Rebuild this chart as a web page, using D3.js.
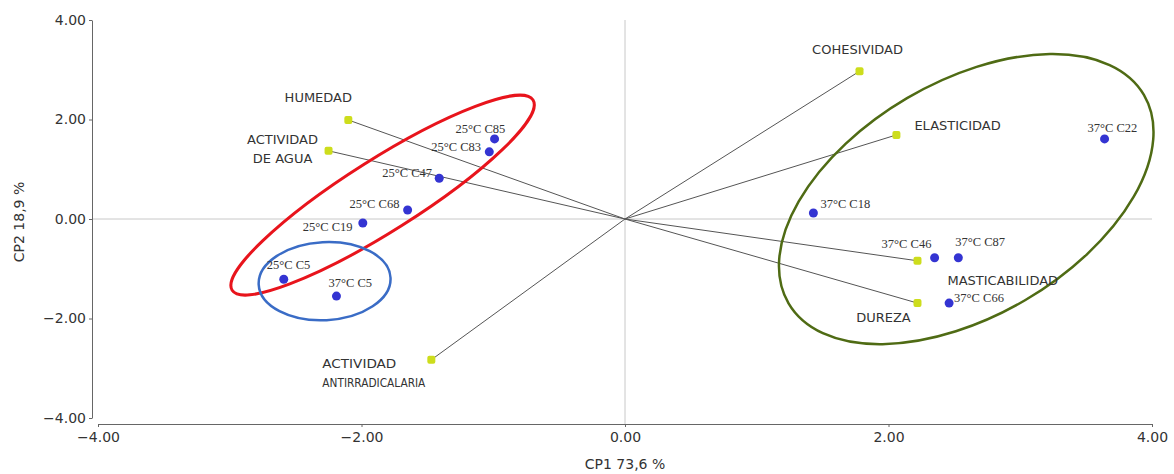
<!DOCTYPE html>
<html>
<head>
<meta charset="utf-8">
<script src="https://cdn.jsdelivr.net/npm/d3@7"></script>
<style>
  body { margin: 0; background: #fff; }
  svg text { font-family: "DejaVu Sans", sans-serif; fill: #333; }
  .axis path, .axis line { stroke: #666; }
  .axis text { font-size: 14px; fill: #333; }
  .sample { font-family: "Liberation Serif", serif; font-size: 12.5px; }
  .var { font-size: 13px; }
</style>
</head>
<body>
<div id="container"></div>
<script>
// samples (scores)
var sampleNames = ["25°C C85", "25°C C83", "25°C C47", "25°C C68", "25°C C19", "25°C C5",
                   "37°C C5", "37°C C18", "37°C C46", "37°C C87", "37°C C66", "37°C C22"];
var sampleCP1 = [-0.99, -1.03, -1.41, -1.65, -1.99, -2.59, -2.19, 1.43, 2.35, 2.53, 2.46, 3.64];
var sampleCP2 = [1.61, 1.35, 0.82, 0.18, -0.08, -1.21, -1.55, 0.12, -0.78, -0.78, -1.69, 1.61];

// variables (loadings)
var varNames = [["HUMEDAD"], ["ACTIVIDAD", "DE AGUA"], ["COHESIVIDAD"], ["ELASTICIDAD"],
                ["MASTICABILIDAD"], ["DUREZA"], ["ACTIVIDAD", "ANTIRRADICALARIA"]];
var varCP1 = [-2.10, -2.25, 1.78, 2.06, 2.22, 2.22, -1.47];
var varCP2 = [1.99, 1.37, 2.97, 1.69, -0.84, -1.69, -2.83];

var tickValues = [-4, -2, 0, 2, 4];

// label placement (pixels, relative to the point)
var sampleLabelPos = [[-39,-6],[-58,-1],[-57,-1],[-58,-2],[-60,8],[-17,-10],
                      [-8,-9],[7,-5],[-53,-10],[-3,-12],[5,-1],[-17,-7]];
var varLabelPos = [
  {dx:-30, dy:-18, anchor:"middle"},
  {dx:-46, dy:-7, anchor:"middle"},
  {dx:-2, dy:-17, anchor:"middle"},
  {dx:18, dy:-5, anchor:"start"},
  {dx:30, dy:24, anchor:"start"},
  {dx:-34, dy:19, anchor:"middle"},
  {dx:-109, dy:8, anchor:"start", fit:[74, 103]}
];

// group ellipses: center in data units, radii/angle in pixels
var groups = [
  {cx:-1.84, cy:0.48, rx:178, ry:36, angle:-32.3, color:"#e8141c", w:3},
  {cx:-2.28, cy:-1.25, rx:66, ry:39, angle:-3, color:"#3a6cc6", w:2.5},
  {cx:2.59, cy:0.40, rx:206, ry:117, angle:-30.4, color:"#4f6b14", w:2.5}
];

var W = 1174, H = 474;
var svg = d3.select("#container").append("svg")
  .attr("width", W).attr("height", H);

var x = d3.scaleLinear().domain([-4, 4]).range([98, 1152]);
var y = d3.scaleLinear().domain([-4, 4]).range([418, 20]);

// zero lines
svg.append("line")
  .attr("x1", 92).attr("x2", 1152)
  .attr("y1", y(0)).attr("y2", y(0))
  .attr("stroke", "#c8c8c8");
svg.append("line")
  .attr("x1", x(0)).attr("x2", x(0))
  .attr("y1", y(4)).attr("y2", 424)
  .attr("stroke", "#c8c8c8");

// axes
svg.append("g")
  .attr("class", "axis")
  .attr("transform", "translate(0,424)")
  .call(d3.axisBottom(x).tickValues(tickValues).tickFormat(d3.format(".2f"))
    .tickSize(3).tickSizeOuter(0).tickPadding(5));
svg.append("g")
  .attr("class", "axis")
  .attr("transform", "translate(92,0)")
  .call(d3.axisLeft(y).tickValues(tickValues).tickFormat(d3.format(".2f"))
    .tickSize(3).tickSizeOuter(0).tickPadding(3));

svg.append("text")
  .attr("x", x(0)).attr("y", 469)
  .attr("text-anchor", "middle")
  .style("font-size", "14px")
  .text("CP1 73,6 %");
svg.append("text")
  .attr("transform", "translate(24," + 222 + ") rotate(-90)")
  .attr("text-anchor", "middle")
  .style("font-size", "14px")
  .text("CP2 18,9 %");

// loading vectors
svg.append("g").selectAll("line")
  .data(varCP1)
  .enter().append("line")
    .attr("x1", x(0)).attr("y1", y(0))
    .attr("x2", (d, i) => x(d))
    .attr("y2", (d, i) => y(varCP2[i]))
    .attr("stroke", "#555")
    .attr("stroke-width", 1);

// ellipses
svg.append("g").selectAll("ellipse")
  .data(groups)
  .enter().append("ellipse")
    .attr("transform", d => "translate(" + x(d.cx) + "," + y(d.cy) + ") rotate(" + d.angle + ")")
    .attr("rx", d => d.rx).attr("ry", d => d.ry)
    .attr("fill", "none")
    .attr("stroke", d => d.color)
    .attr("stroke-width", d => d.w);

// variable points
svg.append("g").selectAll("rect")
  .data(varCP1)
  .enter().append("rect")
    .attr("x", d => x(d) - 4)
    .attr("y", (d, i) => y(varCP2[i]) - 4)
    .attr("width", 8).attr("height", 8)
    .attr("rx", 2)
    .attr("fill", "#cddd1c");

// variable labels
varNames.forEach(function(lines, i) {
  var p = varLabelPos[i];
  var t = svg.append("text")
    .attr("class", "var")
    .attr("text-anchor", p.anchor);
  lines.forEach(function(s, j) {
    var ts = t.append("tspan")
      .attr("x", x(varCP1[i]) + p.dx)
      .attr("y", y(varCP2[i]) + p.dy + j * 19)
      .text(s);
    if (p.fit) ts.attr("textLength", p.fit[j]).attr("lengthAdjust", "spacingAndGlyphs");
  });
});

// sample points
svg.append("g").selectAll("circle")
  .data(sampleCP1)
  .enter().append("circle")
    .attr("cx", d => x(d))
    .attr("cy", (d, i) => y(sampleCP2[i]))
    .attr("r", 4.5)
    .attr("fill", "#3434d2");

svg.append("g").selectAll("text")
  .data(sampleNames)
  .enter().append("text")
    .attr("class", "sample")
    .attr("x", (d, i) => x(sampleCP1[i]) + sampleLabelPos[i][0])
    .attr("y", (d, i) => y(sampleCP2[i]) + sampleLabelPos[i][1])
    .text(d => d);
</script>
</body>
</html>
